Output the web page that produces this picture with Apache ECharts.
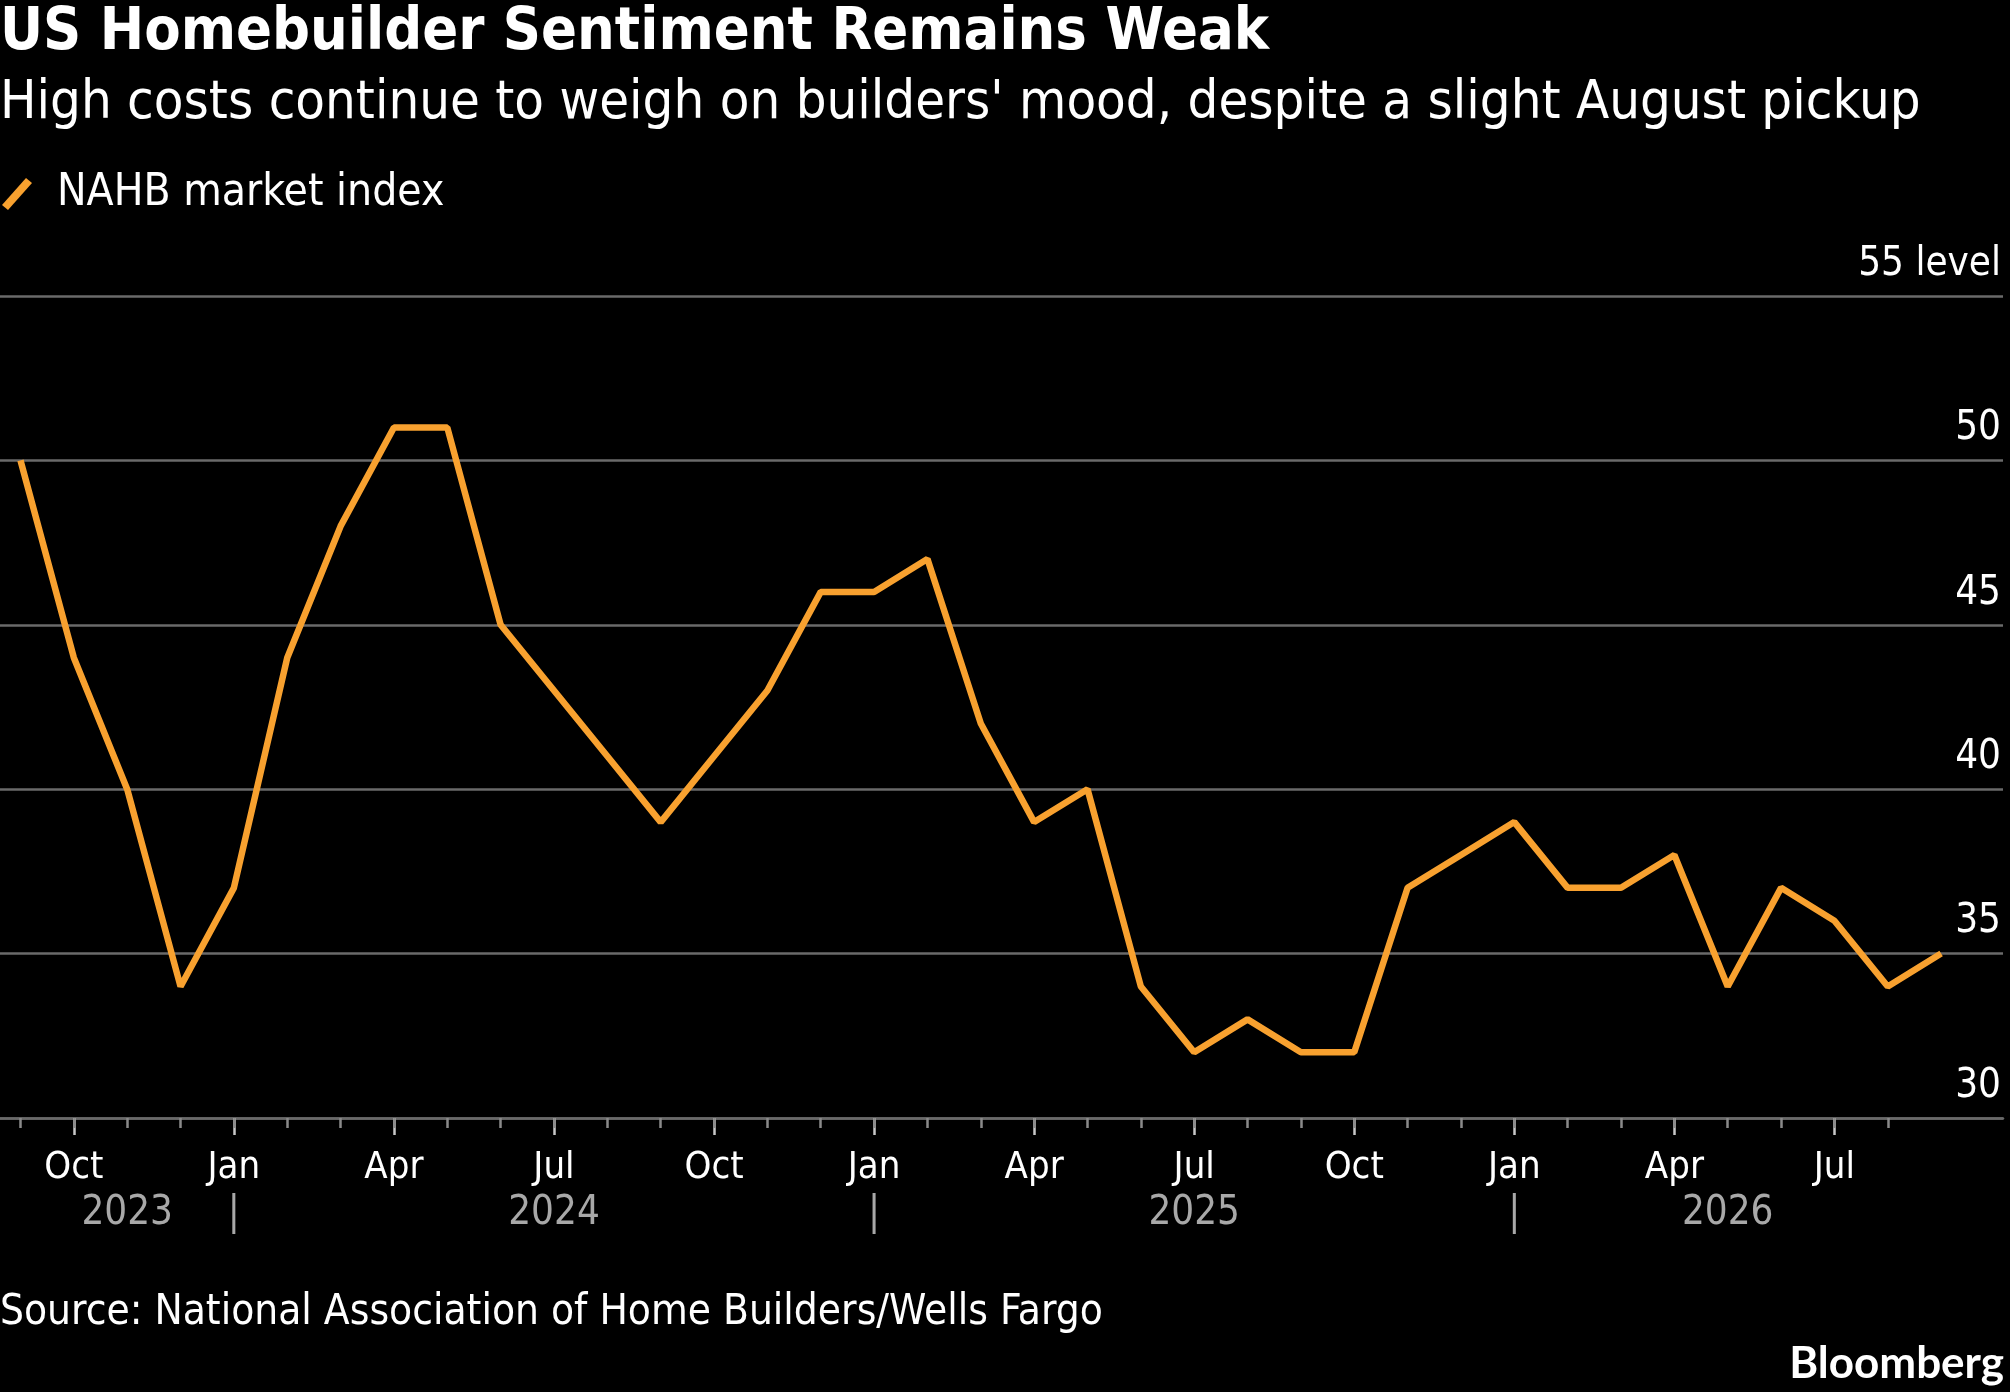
<!DOCTYPE html>
<html>
<head>
<meta charset="utf-8">
<title>US Homebuilder Sentiment Remains Weak</title>
<script src="https://cdn.jsdelivr.net/npm/echarts@6/dist/echarts.min.js"></script>
<style>
  html, body { margin: 0; padding: 0; background: #000; }
  #chart { width: 2010px; height: 1392px; }
</style>
</head>
<body>
<div id="chart"></div>
<script>
// monthly readings, Sep 2023 .. Sep 2026
const periods = [
  "2023-09", "2023-10", "2023-11", "2023-12",
  "2024-01", "2024-02", "2024-03", "2024-04", "2024-05", "2024-06",
  "2024-07", "2024-08", "2024-09", "2024-10", "2024-11", "2024-12",
  "2025-01", "2025-02", "2025-03", "2025-04", "2025-05", "2025-06",
  "2025-07", "2025-08", "2025-09", "2025-10", "2025-11", "2025-12",
  "2026-01", "2026-02", "2026-03", "2026-04", "2026-05", "2026-06",
  "2026-07", "2026-08", "2026-09",
];
const nahbIndex = [
  50, 44, 40, 34,
  37, 44, 48, 51, 51, 45, 43, 41, 39, 41, 43, 46,
  46, 47, 42, 39, 40, 34, 32, 33, 32, 32, 37, 38,
  39, 37, 37, 38, 34, 37, 36, 34, 35,
];
const yTicks = [30, 35, 40, 45, 50, 55];
const monthNames = ["Jan", "Feb", "Mar", "Apr", "May", "Jun", "Jul", "Aug", "Sep", "Oct", "Nov", "Dec"];

const FONT = '"DejaVu Sans Condensed", "Liberation Sans Narrow", "DejaVu Sans", sans-serif';
const ORANGE = "#F8A12F";
const GRID_GRAY = "#6a6a6a";

const monthOf = (i) => parseInt(periods[i].slice(5), 10);
const yearOf = (i) => periods[i].slice(0, 4);

// quarter labels (Jan/Apr/Jul/Oct) and month ticks
const quarterIdx = [];
const monthTickIdx = [];
periods.forEach((p, i) => {
  if ((monthOf(i) - 1) % 3 === 0) quarterIdx.push(i);
  if (i < periods.length - 1) monthTickIdx.push(i);
});

// year row: each year centred on its span, "|" at each January
const yearLabelAt = {};
const lastIdx = periods.length - 1;
let start = 0;
for (let i = 1; i <= periods.length; i++) {
  if (i === periods.length || yearOf(i) !== yearOf(start)) {
    const end = Math.min(i, lastIdx);
    yearLabelAt[(start + end) / 2] = yearOf(start);
    if (i < periods.length) yearLabelAt[i] = "|";
    start = i;
  }
}
const yearIdx = Object.keys(yearLabelAt).map(Number).sort((a, b) => a - b);

const X_MIN = -0.384;
const X_MAX = 37.16;

const chart = echarts.init(document.getElementById("chart"));

const baseX = {
  type: "value",
  min: X_MIN,
  max: X_MAX,
  position: "bottom",
  splitLine: { show: false },
  axisLine: { show: false },
  axisTick: { show: false },
  axisLabel: { show: false },
};

chart.setOption({
  backgroundColor: "#000",
  animation: false,
  title: [
    {
      text: "US Homebuilder Sentiment Remains Weak",
      subtext: "High costs continue to weigh on builders' mood, despite a slight August pickup",
      left: 0,
      top: 4,
      padding: 0,
      itemGap: 14,
      textStyle: { color: "#fff", fontFamily: FONT, fontSize: 59, fontWeight: "bold" },
      subtextStyle: { color: "#fff", fontFamily: FONT, fontSize: 54 },
    },
    {
      text: "Source: National Association of Home Builders/Wells Fargo",
      left: 0,
      top: 1292,
      padding: 0,
      textStyle: { color: "#fff", fontFamily: FONT, fontSize: 42, fontWeight: "normal" },
    },
    {
      text: "Bloomberg",
      right: 6,
      top: 1342,
      padding: 0,
      textStyle: { color: "#fff", fontFamily: '"Lato", "Liberation Sans", sans-serif', fontSize: 44, fontWeight: "bold" },
    },
  ],
  legend: {
    left: 2,
    top: 172,
    padding: 0,
    itemWidth: 30,
    itemHeight: 32,
    icon: "path://M0,27 L24,0 L30,5 L6,32 Z",
    textStyle: { color: "#fff", fontFamily: FONT, fontSize: 44, padding: [0, 0, 0, 20] },
    data: [{ name: "NAHB market index", itemStyle: { color: ORANGE } }],
  },
  grid: { left: 0, right: 7, top: 296, bottom: 274, containLabel: false },
  xAxis: [
    {
      ...baseX,
      axisLine: { show: true, lineStyle: { color: GRID_GRAY, width: 2.5 } },
      axisTick: {
        show: true,
        customValues: quarterIdx,
        length: 17,
        lineStyle: { color: "#c8c8c8", width: 2.5 },
      },
      axisLabel: {
        show: true,
        customValues: quarterIdx,
        formatter: (v) => monthNames[monthOf(Math.round(v)) - 1],
        color: "#fff",
        fontFamily: FONT,
        fontSize: 38,
        margin: 31,
      },
    },
    {
      ...baseX,
      axisTick: {
        show: true,
        customValues: monthTickIdx,
        length: 10,
        lineStyle: { color: "#8a8a8a", width: 2.5 },
      },
    },
    {
      ...baseX,
      axisLabel: {
        show: true,
        customValues: yearIdx,
        formatter: (v) => yearLabelAt[v] || "",
        color: "#a8a8a8",
        fontFamily: FONT,
        fontSize: 40,
        margin: 76,
      },
    },
  ],
  yAxis: {
    type: "value",
    position: "right",
    min: yTicks[0],
    max: yTicks[yTicks.length - 1],
    interval: 5,
    axisLine: { show: false },
    axisTick: { show: false },
    splitLine: { show: true, lineStyle: { color: GRID_GRAY, width: 2.5 } },
    axisLabel: {
      inside: true,
      margin: 2,
      align: "right",
      verticalAlign: "bottom",
      lineHeight: 39,
      padding: [0, 0, 12, 0],
      color: "#fff",
      fontFamily: FONT,
      fontSize: 40,
      formatter: (v) => (v === 55 ? "55 level" : String(v)),
    },
  },
  series: [
    {
      name: "NAHB market index",
      type: "line",
      xAxisIndex: 0,
      data: nahbIndex.map((v, i) => [i, v]),
      showSymbol: false,
      lineStyle: { color: ORANGE, width: 6.5 },
      itemStyle: { color: ORANGE },
    },
  ],
});
</script>
</body>
</html>
